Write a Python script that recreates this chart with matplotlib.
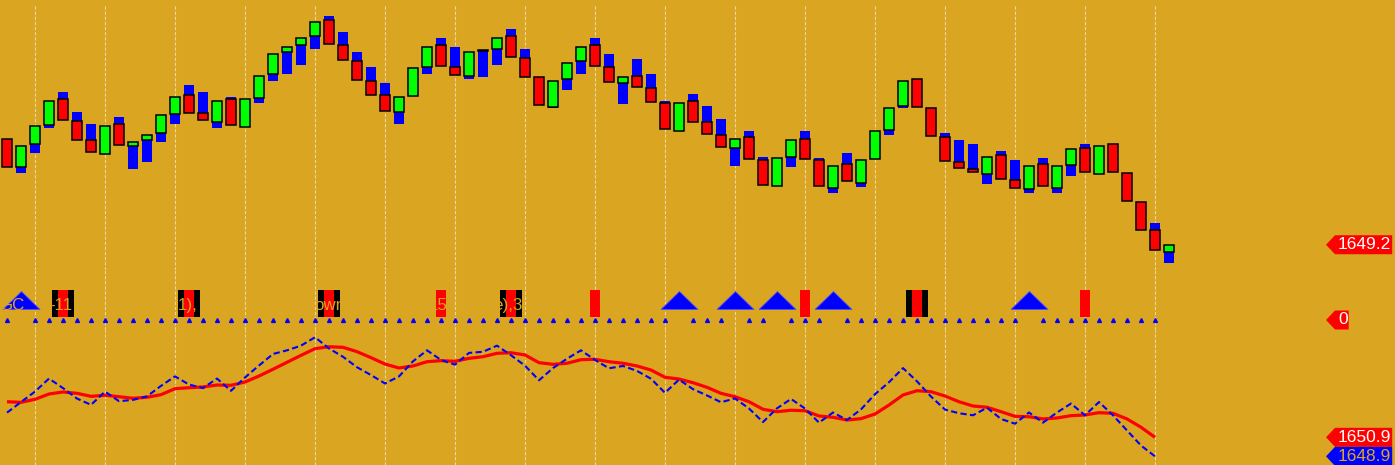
import numpy as np
import matplotlib.pyplot as plt
from matplotlib.patches import Polygon
from matplotlib.transforms import IdentityTransform

# range bars (price), one row per bar
opens = [1654.89, 1653.38, 1654.63, 1655.68, 1657.06, 1655.87, 1654.84, 1654.12, 1655.71, 1654.54,
         1654.84, 1655.22, 1656.28, 1657.27, 1656.30, 1655.85, 1657.06, 1655.58, 1657.14, 1658.42,
         1659.61, 1659.97, 1660.48, 1661.32, 1659.97, 1659.11, 1658.03, 1657.27, 1656.36, 1657.25,
         1658.79, 1659.97, 1658.79, 1658.30, 1659.67, 1659.76, 1660.46, 1659.27, 1658.25, 1656.66,
         1658.14, 1659.11, 1659.97, 1658.79, 1657.92, 1658.30, 1657.65, 1656.84, 1655.36, 1656.95,
         1655.82, 1655.11, 1654.41, 1655.01, 1653.76, 1652.39, 1653.93, 1654.89, 1653.76, 1652.28,
         1653.55, 1652.55, 1653.85, 1655.38, 1656.70, 1658.14, 1656.57, 1655.01, 1653.66, 1653.28,
         1653.04, 1654.03, 1652.68, 1652.19, 1653.55, 1652.28, 1653.52, 1654.41, 1653.04, 1654.63,
         1653.06, 1651.50, 1649.98, 1648.80]
highs = [1654.89, 1654.52, 1655.60, 1656.95, 1657.45, 1656.37, 1655.72, 1655.60, 1656.10, 1654.74,
         1655.11, 1656.19, 1657.17, 1657.83, 1657.45, 1656.95, 1657.18, 1657.06, 1658.30, 1659.49,
         1659.87, 1660.35, 1661.22, 1661.56, 1660.69, 1659.61, 1658.80, 1657.94, 1657.17, 1658.73,
         1659.87, 1660.37, 1659.88, 1659.60, 1659.72, 1660.35, 1660.85, 1659.77, 1658.25, 1658.03,
         1659.00, 1659.87, 1660.37, 1659.50, 1658.25, 1659.23, 1658.42, 1656.97, 1656.84, 1657.34,
         1656.70, 1655.99, 1654.89, 1655.35, 1653.94, 1653.87, 1654.84, 1655.35, 1653.89, 1653.44,
         1654.16, 1653.76, 1655.33, 1656.57, 1658.03, 1658.14, 1656.57, 1655.24, 1654.86, 1654.64,
         1653.93, 1654.26, 1653.78, 1653.44, 1653.89, 1653.44, 1654.36, 1654.64, 1654.52, 1654.63,
         1653.06, 1651.50, 1650.38, 1649.20]
lows = [1653.42, 1653.07, 1654.16, 1655.51, 1655.96, 1654.88, 1654.23, 1654.12, 1654.61, 1653.29,
        1653.67, 1654.75, 1655.72, 1656.33, 1655.96, 1655.51, 1655.68, 1655.58, 1656.86, 1658.05,
        1658.42, 1658.91, 1659.77, 1660.06, 1659.20, 1658.12, 1657.31, 1656.44, 1655.72, 1657.25,
        1658.42, 1658.87, 1658.39, 1658.15, 1658.26, 1658.91, 1659.36, 1658.28, 1656.77, 1656.59,
        1657.56, 1658.42, 1658.87, 1658.01, 1656.80, 1657.74, 1656.93, 1655.47, 1655.36, 1655.85,
        1655.20, 1654.50, 1653.46, 1653.85, 1652.45, 1652.39, 1653.40, 1653.85, 1652.39, 1652.00,
        1652.66, 1652.32, 1653.85, 1655.13, 1656.59, 1656.66, 1655.09, 1653.74, 1653.36, 1653.15,
        1652.48, 1652.77, 1652.28, 1652.00, 1652.39, 1652.00, 1652.91, 1653.15, 1653.04, 1653.15,
        1651.58, 1650.02, 1648.90, 1648.23]
closes = [1653.42, 1654.52, 1655.60, 1656.95, 1655.96, 1654.88, 1654.23, 1655.60, 1654.61, 1654.74,
          1655.11, 1656.19, 1657.17, 1656.33, 1655.96, 1656.95, 1655.68, 1657.06, 1658.30, 1659.49,
          1659.87, 1660.35, 1661.22, 1660.06, 1659.20, 1658.12, 1657.31, 1656.44, 1657.17, 1658.73,
          1659.87, 1658.87, 1658.39, 1659.60, 1659.72, 1660.35, 1659.36, 1658.28, 1656.77, 1658.03,
          1659.00, 1659.87, 1658.87, 1658.01, 1658.25, 1657.74, 1656.93, 1655.47, 1656.84, 1655.85,
          1655.20, 1654.50, 1654.89, 1653.85, 1652.45, 1653.87, 1654.84, 1653.85, 1652.39, 1653.44,
          1652.66, 1653.76, 1655.33, 1656.57, 1658.03, 1656.66, 1655.09, 1653.74, 1653.36, 1653.15,
          1653.93, 1652.77, 1652.28, 1653.44, 1652.39, 1653.44, 1654.36, 1653.15, 1654.52, 1653.15,
          1651.58, 1650.02, 1648.90, 1649.20]

# smooth red line in the lower pane (no value on the forming bar)
smooth = [1654.55, 1654.49, 1654.80, 1655.35, 1655.56, 1655.42, 1655.11, 1655.22, 1655.07, 1654.91,
          1655.01, 1655.28, 1655.90, 1656.00, 1656.08, 1656.28, 1656.25, 1656.59, 1657.21, 1657.91,
          1658.63, 1659.35, 1660.04, 1660.24, 1660.18, 1659.73, 1659.11, 1658.45, 1658.04, 1658.25,
          1658.69, 1658.80, 1658.73, 1659.04, 1659.21, 1659.56, 1659.62, 1659.39, 1658.59, 1658.42,
          1658.53, 1658.90, 1658.94, 1658.69, 1658.53, 1658.25, 1657.83, 1657.08, 1656.90, 1656.52,
          1656.04, 1655.42, 1655.07, 1654.55, 1653.77, 1653.52, 1653.67, 1653.62, 1653.08, 1652.94,
          1652.66, 1652.80, 1653.28, 1654.21, 1655.25, 1655.69, 1655.59, 1655.14, 1654.55, 1654.11,
          1653.98, 1653.52, 1653.04, 1653.00, 1652.77, 1652.87, 1653.11, 1653.18, 1653.42, 1653.35,
          1652.77, 1651.91, 1650.87]

# signal pane
up_marks = [1, 48, 52, 55, 59, 73]
red_marks = [31, 42, 57, 77]
black_marks = [4, 13, 23, 36, 65]
# pieces of the pane caption (drawn in background colour, only seen over the marks)
title_bits = ["GC", "-11", "1),", "own", "15", "e),3"]
title_at = [-0.59, 3.05, 12.21, 21.96, 30.09, 34.7]

BG = '#DAA520'
GRID = '#EAD7A8'
W, H = 1395, 465

n = len(closes)
x = np.arange(n)
o = np.array(opens)
c = np.array(closes)

fig = plt.figure(figsize=(W / 100, H / 100), dpi=100)
fig.patch.set_facecolor(BG)

ax1 = fig.add_axes([0, 195 / H, 1, 265 / H])
ax2 = fig.add_axes([0, 135 / H, 1, 60 / H])
ax3 = fig.add_axes([0, 0, 1, 135 / H])

for ax in (ax1, ax2, ax3):
    ax.set_facecolor(BG)
    ax.set_xlim(-0.5, -0.5 + W / 14)
    for s in ax.spines.values():
        s.set_visible(False)
    ax.set_xticks(np.arange(2, n, 5))
    ax.set_yticks([])
    ax.tick_params(length=0, labelbottom=False)
    ax.set_axisbelow(True)
    ax.grid(axis='x', color=GRID, lw=0.8, ls=(0, (3, 1.6)))

ax1.set_ylim(1647.836, 1662.146)
ax2.set_ylim(-10, 50)
ax3.set_ylim(1648.006, 1661.971)

# range bars: blue = full range, body coloured by direction
ax1.bar(x, np.array(highs) - np.array(lows), bottom=lows, width=0.71, color='#0000FF', lw=0, zorder=2)
body_col = np.where(c >= o, '#00FF00', '#FF0000')
ax1.bar(x, np.abs(c - o), bottom=np.minimum(o, c), width=0.68, color=body_col,
        edgecolor='black', lw=1.1, zorder=3)

# signal pane
dots = np.zeros(n - 1)
dots[[i for i in up_marks if i < n - 1]] = np.nan
ax2.plot(x[:-1], dots, ls='none', marker='^', ms=2.8, color='#0000FF', zorder=2)
tri = [(-1, -0.4865), (1, -0.4865), (0, 0.4865), (-1, -0.4865)]
ax2.scatter(up_marks, [20] * len(up_marks), s=710, marker=tri, color='#0000FF',
            edgecolors='#5050FF', linewidths=0.6, zorder=3)
ax2.bar(black_marks, 27, bottom=3, width=1.64, color='black', zorder=3)
ax2.bar(black_marks + red_marks, 27, bottom=3, width=0.71, color='#FF0000', zorder=4)
for t, xt in zip(title_bits, title_at):
    ax2.text(xt, 10, t, color=BG, fontsize=12.2, family='Liberation Sans',
             ha='left', va='baseline', zorder=5)

# lower pane
ax3.plot(x[:-1], smooth, color='#FF0000', lw=2.3, zorder=3, solid_capstyle='butt')
ax3.plot(x[:-1], closes[:-1], color='#0000FF', lw=1.5, ls=(0, (3, 1.6)), zorder=4)


def price_tag(ax, value, label, face, fg):
    yd = ax.transData.transform((0, value))[1]
    w = 5 + 8.7 * len(label)
    pts = [(1326, yd), (1335, yd - 9.5), (1335 + w, yd - 9.5), (1335 + w, yd + 9.5), (1335, yd + 9.5)]
    fig.patches.append(Polygon(pts, closed=True, facecolor=face, edgecolor='none',
                               transform=IdentityTransform(), zorder=10))
    fig.text(1338 / W, yd / H, label, color=fg, fontsize=12.5, family='Liberation Sans',
             ha='left', va='center', zorder=11)


price_tag(ax1, closes[-1], f"{closes[-1]:.1f}", '#FF0000', 'white')
price_tag(ax2, 0, "0", '#FF0000', 'white')
price_tag(ax3, smooth[-1], f"{smooth[-1]:.1f}", '#FF0000', 'white')
price_tag(ax3, closes[-2], f"{closes[-2]:.1f}", '#0000FF', BG)

fig.savefig("out.png", dpi=100, facecolor=BG)
